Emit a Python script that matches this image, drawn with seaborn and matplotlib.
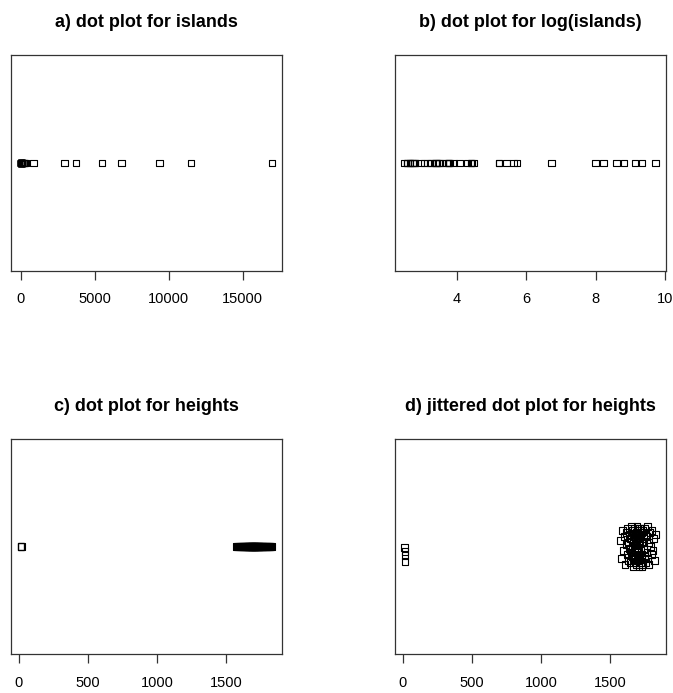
#!/usr/bin/env python3
"""
Dot plots (strip charts) for islands and heights
"""

import numpy as np
import pandas as pd
import matplotlib
matplotlib.use("Agg")
import matplotlib.pyplot as plt
import seaborn as sns

# Island areas (thousands of sq. miles)
island_names = [
    "Africa", "Antarctica", "Asia", "Australia", "Axel Heiberg", "Baffin",
    "Banks", "Borneo", "Britain", "Celebes", "Celon", "Cuba", "Devon",
    "Ellesmere", "Europe", "Greenland", "Hainan", "Hispaniola", "Hokkaido",
    "Honshu", "Iceland", "Ireland", "Java", "Kyushu", "Luzon", "Madagascar",
    "Melville", "Mindanao", "Moluccas", "New Britain", "New Guinea",
    "New Zealand (N)", "New Zealand (S)", "Newfoundland", "North America",
    "Novaya Zemlya", "Prince of Wales", "Sakhalin", "South America",
    "Southampton", "Spitsbergen", "Sumatra", "Taiwan", "Tasmania",
    "Tierra del Fuego", "Timor", "Vancouver", "Victoria",
]
island_areas = [
    11506, 5500, 16988, 2968, 16, 184, 23, 280, 84, 73, 25, 43, 21, 82,
    3745, 840, 13, 30, 30, 89, 40, 33, 49, 14, 42, 227, 16, 36, 29, 15,
    306, 44, 58, 43, 9390, 32, 13, 29, 6795, 16, 15, 183, 14, 26, 19, 13,
    12, 82,
]

# Heights (mm): a few mis-entered values near zero plus the main group
heights_low = [16, 17, 17, 18]
heights_main = [
    1575, 1582, 1590, 1596, 1603, 1608, 1614, 1619, 1623, 1627,
    1631, 1635, 1638, 1642, 1645, 1648, 1651, 1654, 1657, 1660,
    1662, 1665, 1667, 1670, 1672, 1675, 1677, 1679, 1681, 1683,
    1685, 1687, 1689, 1691, 1693, 1695, 1697, 1699, 1701, 1703,
    1705, 1707, 1709, 1711, 1713, 1716, 1718, 1720, 1723, 1725,
    1728, 1730, 1733, 1736, 1739, 1742, 1745, 1748, 1751, 1755,
    1758, 1762, 1766, 1770, 1774, 1778, 1783, 1788, 1793, 1799,
    1805, 1811, 1816, 1822, 1830, 1661, 1684, 1700, 1714, 1732,
]
# vertical jitter offsets
jitter_low = [-0.005, -0.025, -0.045, -0.075]
jitter_main = [
    0.03, -0.06, 0.08, -0.02, 0.05, -0.09, 0.01, 0.07, -0.04, 0.09,
    -0.07, 0.02, -0.01, 0.06, -0.08, 0.04, -0.03, 0.10, -0.05, 0.00,
    0.08, -0.10, 0.03, -0.06, 0.05, -0.02, 0.09, -0.08, 0.01, 0.06,
    -0.04, 0.07, -0.09, 0.02, -0.01, 0.10, -0.07, 0.04, -0.05, 0.08,
    -0.03, 0.06, -0.10, 0.01, 0.09, -0.06, 0.03, -0.08, 0.05, -0.02,
    0.07, -0.04, 0.02, -0.09, 0.08, -0.01, 0.04, 0.09, -0.05, 0.06,
    -0.08, 0.05, -0.03, 0.10, -0.06, 0.02, -0.09, 0.07, 0.00, -0.04,
    0.08, -0.02, 0.04, -0.07, 0.06, -0.05, 0.03, -0.01, 0.09, -0.10,
]

titles = [
    "a) dot plot for islands",
    "b) dot plot for log(islands)",
    "c) dot plot for heights",
    "d) jittered dot plot for heights",
]


def pad_range(values, frac=0.04):
    lo, hi = min(values), max(values)
    span = hi - lo
    return lo - frac * span, hi + frac * span


def dot_plot(ax, x, y, title, ylim):
    sns.scatterplot(x=x, y=y, ax=ax, marker="s", s=22, facecolor="none",
                    edgecolor="black", linewidth=0.8, legend=False)
    ax.set_title(title, fontsize=13, fontweight="bold", pad=20, color="black")
    ax.set_xlim(*pad_range(x))
    ax.set_ylim(*ylim)
    ax.set_yticks([])
    ax.set_xlabel("")
    ax.set_ylabel("")
    for sp in ax.spines.values():
        sp.set_visible(True)
        sp.set_color("#333333")
        sp.set_linewidth(0.9)
    ax.tick_params(axis="x", length=6.5, width=0.9, color="#333333",
                   pad=9, labelsize=10.5, labelcolor="black",
                   direction="out", bottom=True)


sns.set_style("white")
plt.rcParams["font.family"] = ["Liberation Sans", "DejaVu Sans"]
plt.rcParams["text.color"] = "black"

df_isl = pd.DataFrame({"name": island_names, "area": island_areas})
df_isl["log_area"] = np.log(df_isl["area"])

heights = heights_low + heights_main
jitter = jitter_low + jitter_main
df_h = pd.DataFrame({"height": heights, "jit": jitter})
df_h["y"] = 1 + df_h["jit"]

fig = plt.figure(figsize=(6.73, 6.93), dpi=100)
left_a, left_b, width = 0.0163, 0.5865, 0.4027
ax_a = fig.add_axes([left_a, 0.609, width, 0.3117])
ax_b = fig.add_axes([left_b, 0.609, width, 0.3117])
ax_c = fig.add_axes([left_a, 0.0563, width, 0.3107])
ax_d = fig.add_axes([left_b, 0.0563, width, 0.3107])

ones_isl = np.ones(len(df_isl))
ones_h = np.ones(len(df_h))

dot_plot(ax_a, df_isl["area"].tolist(), ones_isl, titles[0], (0.568, 1.432))
ax_a.set_xticks([0, 5000, 10000, 15000])

dot_plot(ax_b, df_isl["log_area"].tolist(), ones_isl, titles[1], (0.568, 1.432))
ax_b.set_xticks([4, 6, 8, 10])
ax_b.set_xlim(ax_b.get_xlim()[0], 10.03)

dot_plot(ax_c, df_h["height"].tolist(), ones_h, titles[2], (0.568, 1.432))
ax_c.set_xticks([0, 500, 1000, 1500])

dot_plot(ax_d, df_h["height"].tolist(), df_h["y"], titles[3], (0.46, 1.54))
ax_d.set_xticks([0, 500, 1000, 1500])

plt.savefig("out.png", dpi=100)
plt.close()
